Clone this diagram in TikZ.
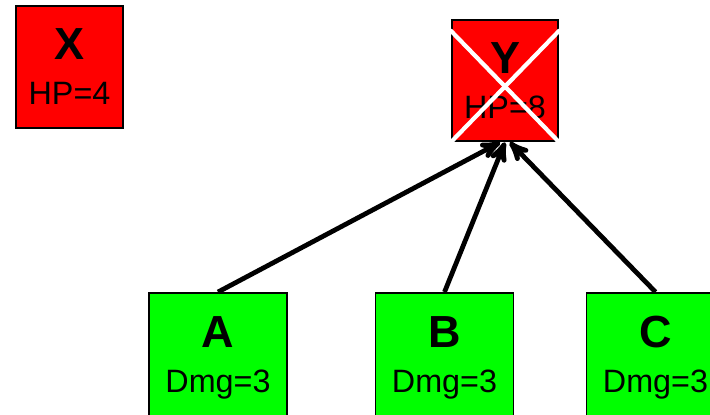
\documentclass[tikz,border=0pt]{standalone}
\usepackage{fontspec}
\setmainfont{Liberation Sans}
\usetikzlibrary{%
  arrows,%
  positioning% wg. " of "
}

\begin{document}
\begin{tikzpicture}[
  >=stealth', line cap=round,
  unit/.style={rectangle, draw=black, line width=1.4pt, align=center,
    inner sep=0pt, font=\fontsize{23}{32}\selectfont},
  enemy/.style={unit, fill=red, minimum width=2.66cm, minimum height=3.04cm},
  ally/.style={unit, fill=green, minimum width=3.45cm, minimum height=3.25cm},
  hit/.style={line width=3.4pt, ->, line cap=butt},
  cross/.style={white, line width=3pt}
]
\useasboundingbox (0,0) rectangle (17.75,-10.35);
\clip (0,0) rectangle (17.75,-10.35);

\node[enemy] (x) at (1.7375,-1.675) {{\fontsize{32}{32}\selectfont\bfseries X}\\HP=4};
\node[enemy] (y) at (12.625,-2.0125) {{\fontsize{32}{32}\selectfont\bfseries Y}\\HP=8};
  \draw[cross] ([yshift=-0.3cm]y.north west) -- (y.south east);
  \draw[cross] ([yshift=-0.3cm]y.north east) -- (y.south west);

\node[ally] (a) at (5.45,-8.95) {{\fontsize{32}{32}\selectfont\bfseries A}\\Dmg=3};
\node[ally] (b) at (11.1125,-8.95) {{\fontsize{32}{32}\selectfont\bfseries B}\\Dmg=3};
\node[ally] (c) at (16.3875,-8.95) {{\fontsize{32}{32}\selectfont\bfseries C}\\Dmg=3};

\draw[hit] (a.north) -- ([xshift=-0.12cm]y.south);
\draw[hit] (b.north) -- (y.south);
\draw[hit] (c.north) -- ([xshift=0.12cm]y.south);
\end{tikzpicture}
\end{document}
